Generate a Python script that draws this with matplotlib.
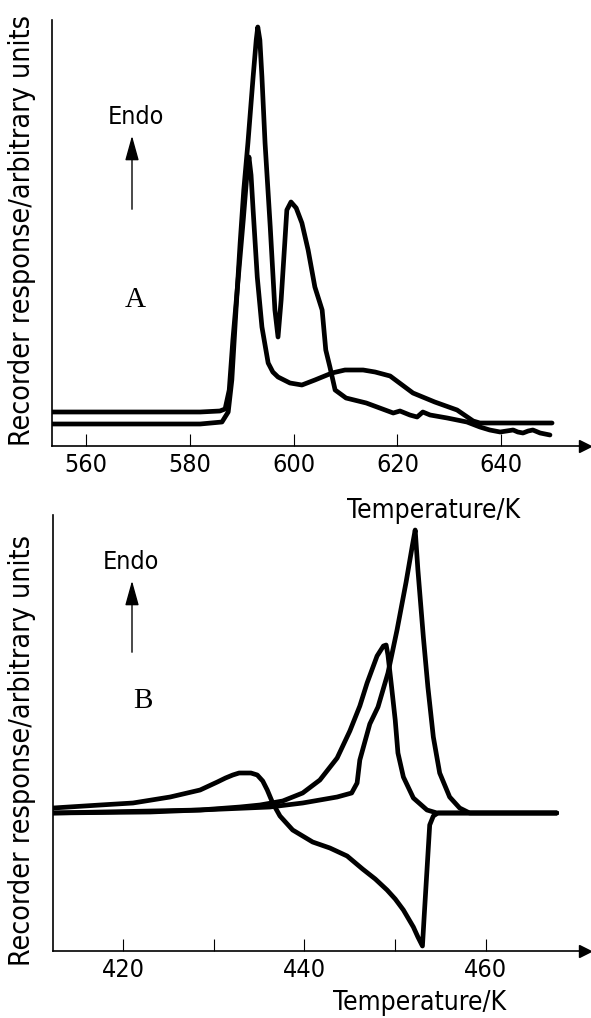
import numpy as np
import matplotlib
matplotlib.use("Agg")
import matplotlib.pyplot as plt
from matplotlib import font_manager


# panel A (high temperature), temperature in K, response in arbitrary units
tempA1 = [553.4, 582.0, 586.2, 587.4, 588.1, 588.9, 589.7, 590.4, 591.2, 592.2, 592.8, 593.1, 593.5,
          593.9, 594.5, 595.5, 596.4, 597.0, 597.6, 598.3, 598.7, 599.5, 600.5, 601.6, 602.8, 604.1,
          605.5, 606.2, 607.0, 608.0, 610.1, 614.0, 616.6, 619.2, 620.5, 622.4, 623.8, 624.9, 626.3,
          629.6, 633.4, 635.9, 637.8, 639.8, 642.3, 643.2, 644.2, 645.2, 646.1, 647.5, 649.4]
respA1 = [2.2, 2.2, 2.4, 3.4, 6.6, 13.6, 20.3, 25.6, 30.3, 36.9, 40.6, 41.9, 40.6,
          36.9, 30.3, 21.9, 13.6, 10.9, 14.6, 20.3, 23.6, 24.4, 23.8, 22.3, 19.6, 15.9,
          13.6, 9.6, 7.9, 5.6, 4.8, 4.3, 3.8, 3.3, 3.5, 3.1, 2.9, 3.4, 3.1,
          2.8, 2.4, 1.9, 1.6, 1.4, 1.6, 1.4, 1.3, 1.5, 1.6, 1.3, 1.1]

tempA2 = [553.4, 582.0, 585.8, 586.8, 587.6, 588.3, 589.3, 590.3, 591.0, 591.4, 591.8, 592.2, 593.0,
          593.9, 595.1, 596.0, 597.0, 599.3, 601.6, 604.1, 607.4, 609.9, 613.4, 615.7, 618.6, 623.0,
          627.2, 631.5, 634.6, 635.9, 643.6, 649.8]
respA2 = [3.4, 3.4, 3.5, 3.7, 5.6, 10.6, 16.6, 22.6, 27.1, 28.9, 27.1, 23.6, 16.9,
          11.9, 8.3, 7.4, 6.9, 6.3, 6.1, 6.6, 7.3, 7.6, 7.6, 7.4, 7.0, 5.3,
          4.4, 3.6, 2.5, 2.3, 2.3, 2.3]

# panel B (low temperature)
tempB1 = [412.3, 417.5, 421.1, 425.2, 428.5, 430.4, 431.3, 432.1, 432.8, 433.4, 434.1, 434.8, 435.4,
          435.9, 436.5, 437.3, 438.7, 440.9, 442.8, 444.7, 446.4, 447.8, 449.1, 450.0, 450.9, 452.0,
          452.5, 453.0, 453.2, 453.4, 453.6, 453.8, 454.2, 454.7, 457.1, 461.5, 467.8]
respB1 = [14.3, 14.6, 14.8, 15.4, 16.1, 16.9, 17.3, 17.6, 17.8, 17.8, 17.8, 17.6, 17.0,
          16.1, 14.8, 13.5, 12.1, 10.9, 10.3, 9.5, 8.2, 7.2, 6.1, 5.2, 4.1, 2.4,
          1.4, 0.5, 3.6, 6.6, 9.6, 12.6, 13.5, 13.8, 13.8, 13.8, 13.8]

tempB2 = [412.3, 423.0, 428.5, 432.9, 435.1, 437.6, 439.8, 441.7, 443.6, 445.0, 446.1, 446.9, 448.0,
          448.7, 449.0, 449.2, 449.6, 450.0, 450.3, 450.9, 452.0, 453.5, 454.6, 458.2, 467.8]
respB2 = [13.8, 13.9, 14.1, 14.4, 14.6, 15.0, 15.8, 17.1, 19.3, 22.0, 24.5, 26.8, 29.5,
          30.5, 30.6, 29.6, 26.4, 23.1, 19.8, 17.4, 15.3, 14.1, 13.8, 13.8, 13.8]

tempB3 = [412.3, 428.5, 436.2, 439.8, 443.6, 445.2, 445.8, 446.1, 447.2, 448.1, 449.2, 450.2, 451.2,
          451.9, 452.2, 452.5, 453.1, 453.6, 454.2, 454.9, 456.0, 457.1, 458.2, 467.8]
respB3 = [13.8, 14.1, 14.4, 14.8, 15.4, 15.8, 16.8, 19.1, 22.7, 24.4, 27.8, 32.1, 36.9,
          40.6, 42.1, 38.1, 31.4, 26.4, 21.4, 17.8, 15.4, 14.3, 13.8, 13.8]

ticksA = [560, 580, 600, 620, 640]
ticksB = [420, 440, 460]
minorB = [430, 450]

W, H = 591, 1018


def font_file(**kw):
    try:
        return font_manager.findfont(font_manager.FontProperties(**kw), fallback_to_default=False)
    except Exception:
        return ""


# the original lettering is tall and narrow; use a narrow face when one is installed
if "Narrow" in font_file(family="Liberation Sans Narrow"):
    plt.rcParams["font.family"] = ["Liberation Sans Narrow", "DejaVu Sans"]
    sizes = dict(tick=20, ylab=21, xlab=21, endo=19)
elif "Condensed" in font_file(family="DejaVu Sans", stretch="condensed"):
    plt.rcParams["font.family"] = ["DejaVu Sans"]
    plt.rcParams["font.stretch"] = "condensed"
    sizes = dict(tick=18, ylab=20.5, xlab=19, endo=18)
else:
    plt.rcParams["font.family"] = ["DejaVu Sans"]
    sizes = dict(tick=16, ylab=18.5, xlab=17, endo=16)


def fpos(x, y):
    # pixel position (top-left origin) -> figure fraction
    return x / W, 1 - y / H


def axbox(x0, y_axis, x1, y_top):
    return [x0 / W, 1 - y_axis / H, (x1 - x0) / W, (y_axis - y_top) / H]


def style_axes(ax):
    for s in ["top", "right"]:
        ax.spines[s].set_visible(False)
    for s in ["left", "bottom"]:
        ax.spines[s].set_linewidth(1.2)
    ax.tick_params(axis="x", direction="in", length=9, width=0.8, pad=5, labelsize=sizes["tick"])
    ax.tick_params(axis="x", which="minor", direction="in", length=9, width=0.8)
    ax.set_yticks([])
    ax.plot(1, 0, ">k", ms=9, transform=ax.get_yaxis_transform(), clip_on=False)
    ax.plot(0, 1, "^k", ms=9, transform=ax.get_xaxis_transform(), clip_on=False)


fig = plt.figure(figsize=(W / 100, H / 100), dpi=100)

kw = dict(color="black", lw=3.4, solid_joinstyle="round", solid_capstyle="round")

axA = fig.add_axes(axbox(52, 446, 585, 20))
axA.plot(tempA1, respA1, **kw)
axA.plot(tempA2, respA2, **kw)
axA.set_xlim(553.45, 553.45 + (585 - 52) / 5.19)
axA.set_ylim(0, (446 - 20) / 10)
axA.set_xticks(ticksA)
style_axes(axA)

axB = fig.add_axes(axbox(53, 951, 585, 515))
axB.plot(tempB1, respB1, **kw)
axB.plot(tempB2, respB2, **kw)
axB.plot(tempB3, respB3, **kw)
axB.set_xlim(412.29, 412.29 + (585 - 53) / 9.075)
axB.set_ylim(0, (951 - 515) / 10)
axB.set_xticks(ticksB)
axB.set_xticks(minorB, minor=True)
style_axes(axB)

ylab = "Recorder response/arbitrary units"
fig.text(*fpos(22, 230), ylab, rotation=90, ha="center", va="center", fontsize=sizes["ylab"])
fig.text(*fpos(22, 750), ylab, rotation=90, ha="center", va="center", fontsize=sizes["ylab"])
fig.text(*fpos(434, 511), "Temperature/K", ha="center", va="center", fontsize=sizes["xlab"])
fig.text(*fpos(420, 1003), "Temperature/K", ha="center", va="center", fontsize=sizes["xlab"])

for ex, ey, tip, tail in [(136, 117, 133, 212), (131, 562, 578, 655)]:
    fig.text(*fpos(ex, ey), "Endo", ha="center", va="center", fontsize=sizes["endo"])
    fig.add_artist(matplotlib.patches.FancyArrowPatch(
        fpos(132, tail), fpos(132, tip), transform=fig.transFigure,
        arrowstyle="-|>,head_length=0.9,head_width=0.25", mutation_scale=17, lw=1.0, color="black"))

fig.text(*fpos(135, 300), "A", ha="center", va="center", fontsize=21, family="Liberation Serif")
fig.text(*fpos(143, 701), "B", ha="center", va="center", fontsize=21, family="Liberation Serif")

fig.savefig("out.png", dpi=100)
